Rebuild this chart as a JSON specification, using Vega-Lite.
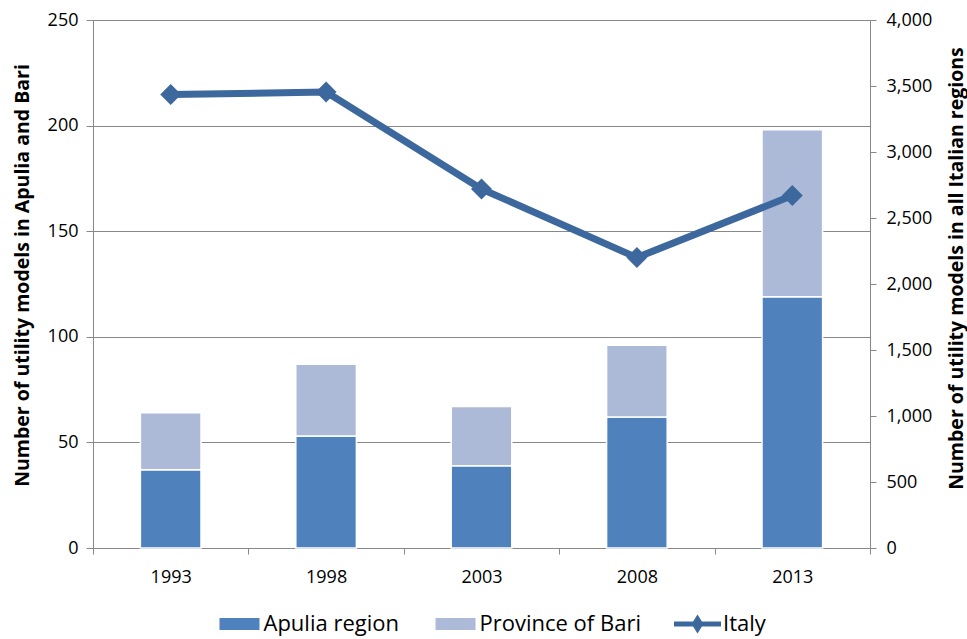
{
  "$schema": "https://vega.github.io/schema/vega-lite/v6.json",
  "width": 777,
  "height": 528,
  "autosize": "none",
  "padding": {"left": 93, "top": 20, "right": 97, "bottom": 91},
  "background": "white",
  "config": {"font": "Open Sans", "view": {"stroke": null}},
  "data": {"values": [
    {"year": "1993", "series": "Apulia region", "value": 37},
    {"year": "1998", "series": "Apulia region", "value": 53},
    {"year": "2003", "series": "Apulia region", "value": 39},
    {"year": "2008", "series": "Apulia region", "value": 62},
    {"year": "2013", "series": "Apulia region", "value": 119},
    {"year": "1993", "series": "Province of Bari", "value": 27},
    {"year": "1998", "series": "Province of Bari", "value": 34},
    {"year": "2003", "series": "Province of Bari", "value": 28},
    {"year": "2008", "series": "Province of Bari", "value": 34},
    {"year": "2013", "series": "Province of Bari", "value": 79},
    {"year": "1993", "series": "Italy", "value": 3435},
    {"year": "1998", "series": "Italy", "value": 3455},
    {"year": "2003", "series": "Italy", "value": 2720},
    {"year": "2008", "series": "Italy", "value": 2200},
    {"year": "2013", "series": "Italy", "value": 2670}
  ]},
  "encoding": {
    "x": {
      "field": "year", "type": "ordinal",
      "scale": {"paddingInner": 0, "paddingOuter": 0},
      "axis": {
        "title": null, "labelAngle": 0, "tickBand": "extent", "grid": false,
        "domainColor": "#888888", "tickColor": "#888888", "tickSize": 6,
        "labelFontSize": 18, "labelColor": "#000000", "labelPadding": 14
      }
    }
  },
  "layer": [
    {
      "transform": [{"filter": "datum.series !== 'Italy'"}],
      "mark": {"type": "bar", "width": {"band": 0.39}, "stroke": "white", "strokeWidth": 1.5},
      "encoding": {
        "y": {
          "field": "value", "type": "quantitative", "stack": "zero",
          "scale": {"domain": [0, 250], "nice": false},
          "axis": {
            "title": "Number of utility models in Apulia and Bari",
            "values": [0, 50, 100, 150, 200, 250],
            "grid": true, "gridColor": "#888888", "gridWidth": 1,
            "domainColor": "#888888", "tickColor": "#888888", "tickSize": 7,
            "labelFontSize": 18, "labelColor": "#000000", "labelPadding": 8,
            "titleFontSize": 19.5, "titleFontWeight": "bold", "titleColor": "#000000",
            "titleAngle": -90, "titleBaseline": "middle", "titleX": -71, "titleY": 255
          }
        },
        "order": {"field": "series", "sort": "ascending"},
        "fill": {
          "field": "series", "type": "nominal",
          "scale": {
            "domain": ["Apulia region", "Province of Bari"],
            "range": ["#4F81BD", "#ACBAD8"]
          },
          "legend": {
            "title": null, "orient": "none", "direction": "horizontal",
            "legendX": 135.5, "legendY": 593,
            "symbolSize": 100, "symbolType": "M-4,-1.2 h8 v2.4 h-8 Z",
            "symbolStrokeWidth": 0, "labelOffset": 13, "columnPadding": 36,
            "labelFontSize": 22, "labelColor": "#000000", "labelFont": "Open Sans", "labelLimit": 400
          }
        }
      }
    },
    {
      "transform": [{"filter": "datum.series === 'Italy'"}],
      "mark": {"type": "line", "strokeWidth": 7, "strokeJoin": "round",
        "point": {"shape": "M0,-1 L1,0 L0,1 L-1,0 Z", "size": 440, "filled": true}},
      "encoding": {
        "y": {
          "field": "value", "type": "quantitative",
          "scale": {"domain": [0, 4000], "nice": false},
          "axis": {
            "orient": "right",
            "title": "Number of utility models in all Italian regions",
            "values": [0, 500, 1000, 1500, 2000, 2500, 3000, 3500, 4000],
            "format": ",.0f", "grid": false,
            "domainColor": "#888888", "tickColor": "#888888", "tickSize": 6,
            "labelFontSize": 18, "labelColor": "#000000", "labelPadding": 10,
            "titleFontSize": 19.5, "titleFontWeight": "bold", "titleColor": "#000000",
            "titleAngle": -90, "titleBaseline": "middle", "titleX": 86, "titleY": 248
          }
        },
        "color": {
          "field": "series", "type": "nominal",
          "scale": {"domain": ["Italy"], "range": ["#3C689D"]},
          "legend": {
            "title": null, "orient": "none", "direction": "horizontal",
            "legendX": 593.5, "legendY": 593,
            "symbolSize": 100,
            "symbolType": "M-4.7,-0.5 h9.4 v1 h-9.4 Z M0,-1.9 L1.2,0 L0,1.9 L-1.2,0 Z",
            "symbolFillColor": "#3C689D", "symbolStrokeWidth": 0,
            "labelOffset": 14.5,
            "labelFontSize": 22, "labelColor": "#000000", "labelFont": "Open Sans", "labelLimit": 400
          }
        }
      }
    }
  ],
  "resolve": {"scale": {"y": "independent"}, "axis": {"y": "independent"}}
}
